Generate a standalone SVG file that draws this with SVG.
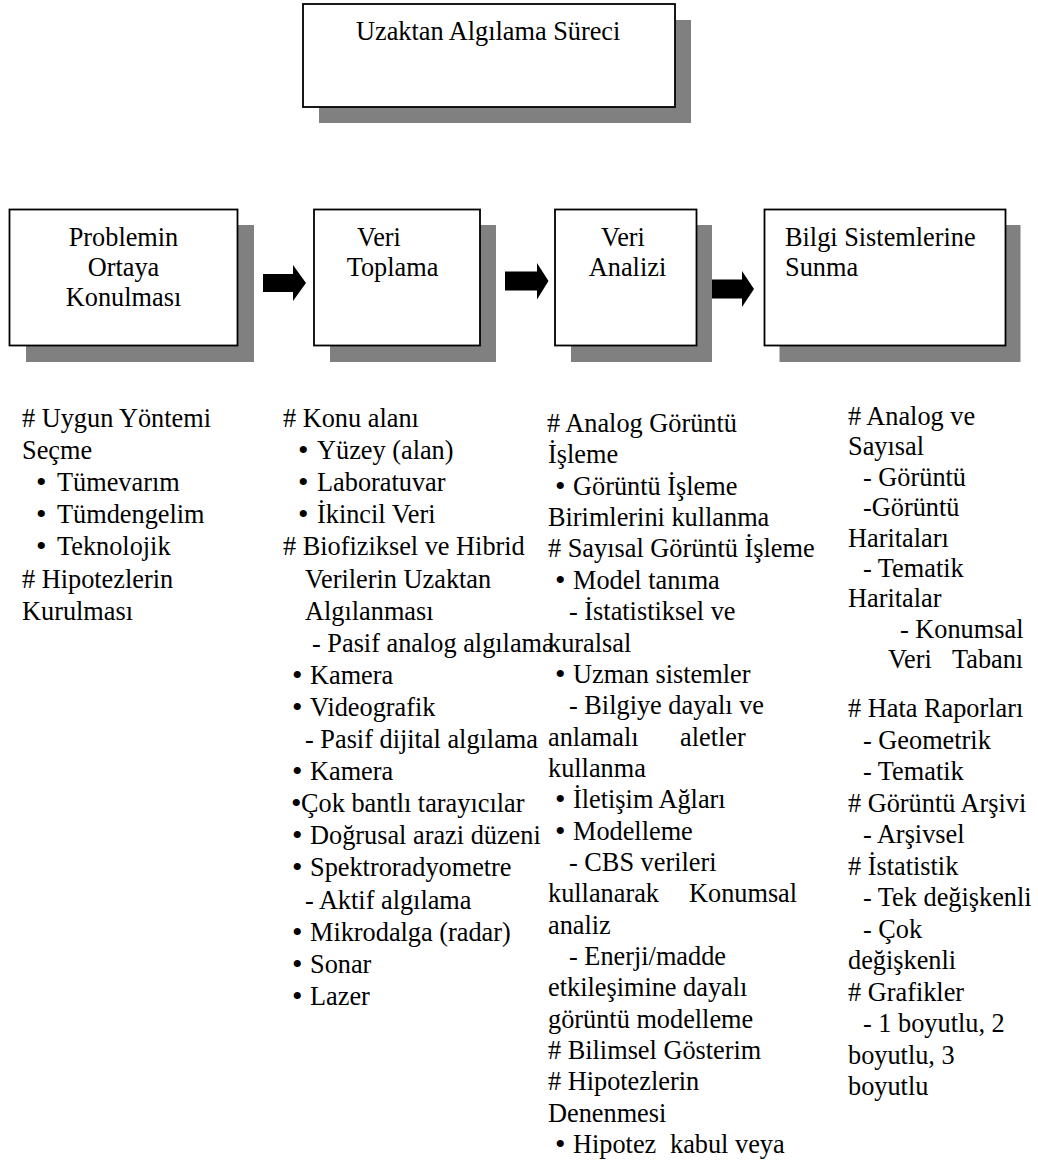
<svg xmlns="http://www.w3.org/2000/svg" width="1038" height="1165" viewBox="0 0 1038 1165">
  <style>
    text { font-family: "Liberation Serif", "Times New Roman", serif; font-size: 26.3px; fill: #000; }
    text.bul { font-size: 30px; }
    .box { fill: #fff; stroke: #000; stroke-width: 1.8; }
    .shadow { fill: #808080; stroke: none; }
    .arrow { fill: #000; stroke: none; }
    .mid { text-anchor: middle; }
  </style>
  <rect width="1038" height="1165" fill="#fff"/>

  <!-- Title box -->
  <g id="title">
    <rect class="shadow" x="319" y="20" width="372" height="103"/>
    <rect class="box" x="303" y="4" width="372" height="103"/>
    <text x="356" y="40">Uzaktan Algılama Süreci</text>
  </g>

  <!-- Process stages -->
  <g id="stage-problem">
    <rect class="shadow" x="26" y="225" width="228" height="137"/>
    <rect class="box" x="9.5" y="209.5" width="228" height="136"/>
    <text class="mid" x="123.5" y="245.5">Problemin</text>
    <text class="mid" x="123.5" y="275.5">Ortaya</text>
    <text class="mid" x="123.5" y="305.5">Konulması</text>
  </g>
  <g id="stage-collect">
    <rect class="shadow" x="330" y="225" width="166" height="137"/>
    <rect class="box" x="314" y="209.5" width="166" height="136"/>
    <text class="mid" x="379" y="245.5">Veri</text>
    <text class="mid" x="392.5" y="275.5">Toplama</text>
  </g>
  <g id="stage-analysis">
    <rect class="shadow" x="571" y="225" width="141" height="137"/>
    <rect class="box" x="555" y="209.5" width="141.5" height="136"/>
    <text class="mid" x="623" y="245.5">Veri</text>
    <text class="mid" x="627.5" y="275.5">Analizi</text>
  </g>
  <g id="stage-present">
    <rect class="shadow" x="779.5" y="225" width="241" height="137"/>
    <rect class="box" x="764.5" y="209.5" width="241" height="136"/>
    <text x="785" y="245.5">Bilgi Sistemlerine</text>
    <text x="785" y="275.5">Sunma</text>
  </g>

  <!-- Block arrows between stages -->
  <g id="connectors">
    <path class="arrow" d="M263,274 H293 V265 L306,283 L293,301 V292 H263 Z"/>
    <path class="arrow" d="M505,271.5 H537 V263 L548.5,281 L537,299.5 V290.5 H505 Z"/>
    <path class="arrow" d="M712,279.5 H742 V271 L754,289 L742,307 V298.5 H712 Z"/>
  </g>

  <!-- Details under "Problemin Ortaya Konulması" -->
  <g id="list-problem">
    <text x="22" y="427"># Uygun Yöntemi</text>
    <text x="22" y="459.1">Seçme</text>
    <text class="bul" x="36" y="492.2">•</text><text x="57" y="491.2">Tümevarım</text>
    <text class="bul" x="36" y="524.3">•</text><text x="57" y="523.3">Tümdengelim</text>
    <text class="bul" x="36" y="556.4">•</text><text x="57" y="555.4">Teknolojik</text>
    <text x="22" y="587.5"># Hipotezlerin</text>
    <text x="22" y="619.6">Kurulması</text>
  </g>

  <!-- Details under "Veri Toplama" -->
  <g id="list-collect">
    <text x="283" y="427"># Konu alanı</text>
    <text class="bul" x="298" y="460.1">•</text><text x="317" y="459.1">Yüzey (alan)</text>
    <text class="bul" x="298" y="492.2">•</text><text x="317" y="491.2">Laboratuvar</text>
    <text class="bul" x="298" y="524.3">•</text><text x="317" y="523.3">İkincil Veri</text>
    <text x="283" y="555.4"># Biofiziksel ve Hibrid</text>
    <text x="305" y="587.5">Verilerin Uzaktan</text>
    <text x="305" y="619.6">Algılanması</text>
    <text x="312" y="651.7">- Pasif analog algılama</text>
    <text class="bul" x="292" y="684.8">•</text><text x="310" y="683.8">Kamera</text>
    <text class="bul" x="292" y="716.9">•</text><text x="310" y="715.9">Videografik</text>
    <text x="305" y="748">- Pasif dijital algılama</text>
    <text class="bul" x="292" y="781.1">•</text><text x="310" y="780.1">Kamera</text>
    <text class="bul" x="291" y="813.2">•</text><text x="301" y="812.2">Çok bantlı tarayıcılar</text>
    <text class="bul" x="292" y="845.3">•</text><text x="310" y="844.3">Doğrusal arazi düzeni</text>
    <text class="bul" x="292" y="877.4">•</text><text x="310" y="876.4">Spektroradyometre</text>
    <text x="305" y="908.5">- Aktif algılama</text>
    <text class="bul" x="292" y="941.6">•</text><text x="310" y="940.6">Mikrodalga (radar)</text>
    <text class="bul" x="292" y="973.7">•</text><text x="310" y="972.7">Sonar</text>
    <text class="bul" x="292" y="1005.8">•</text><text x="310" y="1004.8">Lazer</text>
  </g>

  <!-- Details under "Veri Analizi" -->
  <g id="list-analysis">
    <text x="547" y="432"># Analog Görüntü</text>
    <text x="548" y="463.4">İşleme</text>
    <text class="bul" x="555" y="495.7">•</text><text x="573" y="494.7">Görüntü İşleme</text>
    <text x="548" y="526.1">Birimlerini kullanma</text>
    <text x="548" y="557.4"># Sayısal Görüntü İşleme</text>
    <text class="bul" x="555" y="589.8">•</text><text x="573" y="588.8">Model tanıma</text>
    <text x="569" y="620.1">- İstatistiksel ve</text>
    <text x="548" y="651.5">kuralsal</text>
    <text class="bul" x="555" y="683.8">•</text><text x="573" y="682.8">Uzman sistemler</text>
    <text x="569" y="714.2">- Bilgiye dayalı ve</text>
    <text x="548" y="745.5">anlamalı<tspan x="680">aletler</tspan></text>
    <text x="548" y="776.9">kullanma</text>
    <text class="bul" x="555" y="809.2">•</text><text x="573" y="808.2">İletişim Ağları</text>
    <text class="bul" x="555" y="840.6">•</text><text x="573" y="839.6">Modelleme</text>
    <text x="569" y="870.9">- CBS verileri</text>
    <text x="548" y="902.3">kullanarak<tspan x="689">Konumsal</tspan></text>
    <text x="548" y="933.6">analiz</text>
    <text x="569" y="965">- Enerji/madde</text>
    <text x="548" y="996.3">etkileşimine dayalı</text>
    <text x="548" y="1027.7">görüntü modelleme</text>
    <text x="548" y="1059"># Bilimsel Gösterim</text>
    <text x="548" y="1090.4"># Hipotezlerin</text>
    <text x="548" y="1121.7">Denenmesi</text>
    <text class="bul" x="555" y="1154.1">•</text><text x="573" y="1153.1">Hipotez<tspan x="670">kabul veya</tspan></text>
  </g>

  <!-- Details under "Bilgi Sistemlerine Sunma" -->
  <g id="list-present">
    <text x="848" y="425"># Analog ve</text>
    <text x="848" y="455.4">Sayısal</text>
    <text x="863" y="485.8">- Görüntü</text>
    <text x="863" y="516.2">-Görüntü</text>
    <text x="848" y="546.6">Haritaları</text>
    <text x="863" y="577">- Tematik</text>
    <text x="848" y="607.4">Haritalar</text>
    <text x="900" y="637.8">- Konumsal</text>
    <text x="888" y="668.2">Veri<tspan x="952">Tabanı</tspan></text>
    <text x="848" y="717"># Hata Raporları</text>
    <text x="863" y="748.5">- Geometrik</text>
    <text x="863" y="780">- Tematik</text>
    <text x="848" y="811.5"># Görüntü Arşivi</text>
    <text x="863" y="843">- Arşivsel</text>
    <text x="848" y="874.5"># İstatistik</text>
    <text x="863" y="906">- Tek değişkenli</text>
    <text x="863" y="937.5">- Çok</text>
    <text x="848" y="969">değişkenli</text>
    <text x="848" y="1000.5"># Grafikler</text>
    <text x="863" y="1032">- 1 boyutlu, 2</text>
    <text x="848" y="1063.5">boyutlu, 3</text>
    <text x="848" y="1095">boyutlu</text>
  </g>
</svg>
